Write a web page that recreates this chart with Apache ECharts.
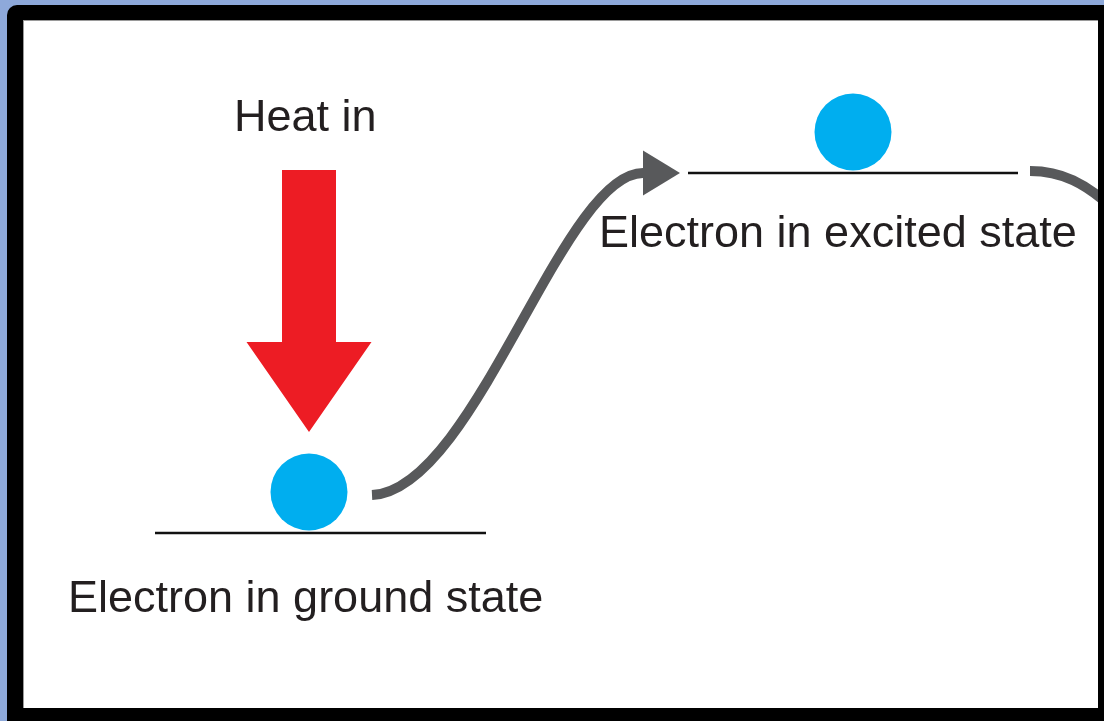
<!DOCTYPE html>
<html>
<head>
<meta charset="utf-8">
<script src="https://cdn.jsdelivr.net/npm/echarts@6/dist/echarts.min.js"></script>
<style>
  html, body { margin: 0; padding: 0; width: 1104px; height: 721px; overflow: hidden; background: #8ea9da; }
  .frame { position: absolute; left: 7px; top: 5px; width: 1110px; height: 730px; background: #000; border-radius: 10px; }
  .paper { position: absolute; left: 23px; top: 20px; width: 1075px; height: 688px; background: #fff; box-shadow: inset 1px 1px 0 #9a9a9a; }
  #chart { position: absolute; left: 0; top: 0; width: 1104px; height: 721px; }
</style>
</head>
<body>
<div class="frame"></div>
<div class="paper"></div>
<div id="chart"></div>
<script>
// diagram space = pixels of the picture (y grows downwards)
const labels = [
  { name: 'Heat in', value: [234, 119] },
  { name: 'Electron in excited state', value: [599, 235] },
  { name: 'Electron in ground state', value: [68, 600] },
]
const groundLevel = [[155, 533], [486, 533]]
const excitedLevel = [[688, 173], [1018, 173]]
const electrons = [[309, 492], [853, 132]]
// heat arrow: x, top of shaft, tip
const heatArrow = [[309, 170, 432]]
// transition curve (cubic bezier points) + arrow tip
const riseCurve = [[372, 495], [475, 490], [562, 173], [643, 173]]
const riseTip = [680, 173]
const fallCurve = [[1030, 171], [1060, 171], [1086, 182], [1116, 212]]

const chart = echarts.init(document.getElementById('chart'), null, { renderer: 'canvas' })

const grey = '#58595b'
const ink = '#231f20'

function curveItem(points, tip) {
  return function (params, api) {
    const p = points.map(pt => api.coord(pt))
    const children = [{
      type: 'bezierCurve',
      shape: {
        x1: p[0][0], y1: p[0][1],
        cpx1: p[1][0], cpy1: p[1][1],
        cpx2: p[2][0], cpy2: p[2][1],
        x2: p[3][0], y2: p[3][1],
      },
      style: { stroke: grey, lineWidth: 10, fill: null, lineCap: 'butt' },
    }]
    if (tip) {
      const t = api.coord(tip)
      const b = p[3]
      const dx = t[0] - b[0], dy = t[1] - b[1]
      const len = Math.sqrt(dx * dx + dy * dy)
      const nx = -dy / len, ny = dx / len
      const hw = 22.5
      children.push({
        type: 'polygon',
        shape: { points: [[b[0] + nx * hw, b[1] + ny * hw], t, [b[0] - nx * hw, b[1] - ny * hw]] },
        style: { fill: grey },
      })
    }
    return { type: 'group', children }
  }
}

const option = {
  backgroundColor: 'transparent',
  animation: false,
  grid: { left: 0, top: 0, right: 6, bottom: 0 },
  xAxis: { type: 'value', min: 0, max: 1098, show: false },
  yAxis: { type: 'value', min: 0, max: 721, inverse: true, show: false },
  series: [
    {
      type: 'line',
      data: groundLevel,
      symbol: 'none',
      lineStyle: { color: '#111', width: 2.5 },
      silent: true,
    },
    {
      type: 'line',
      data: excitedLevel,
      symbol: 'none',
      lineStyle: { color: '#111', width: 2.5 },
      silent: true,
    },
    {
      type: 'custom',
      clip: true,
      data: [0],
      renderItem: curveItem(riseCurve, riseTip),
      silent: true,
    },
    {
      type: 'custom',
      clip: true,
      data: [0],
      renderItem: curveItem(fallCurve, null),
      silent: true,
    },
    {
      type: 'custom',
      data: heatArrow,
      renderItem: (params, api) => {
        const top = api.coord([api.value(0), api.value(1)])
        const tip = api.coord([api.value(0), api.value(2)])
        const x = top[0]
        const shaft = 27, head = 62.5, headLen = 90
        const hy = tip[1] - headLen
        return {
          type: 'polygon',
          shape: {
            points: [
              [x - shaft, top[1]], [x + shaft, top[1]], [x + shaft, hy],
              [x + head, hy], tip, [x - head, hy], [x - shaft, hy],
            ],
          },
          style: { fill: '#ed1c24' },
        }
      },
      silent: true,
    },
    {
      type: 'scatter',
      data: electrons,
      symbol: 'circle',
      symbolSize: 77,
      itemStyle: { color: '#00aeef', opacity: 1 },
      silent: true,
    },
    {
      type: 'custom',
      data: labels,
      renderItem: (params, api) => {
        const p = api.coord([api.value(0), api.value(1)])
        return {
          type: 'text',
          style: {
            text: labels[params.dataIndex].name,
            x: p[0], y: p[1],
            fill: ink,
            font: '45px "Liberation Sans", Arial, sans-serif',
            align: 'left',
            verticalAlign: 'middle',
          },
        }
      },
      silent: true,
    },
  ],
}

chart.setOption(option)
window.addEventListener('resize', () => chart.resize())
</script>
</body>
</html>
